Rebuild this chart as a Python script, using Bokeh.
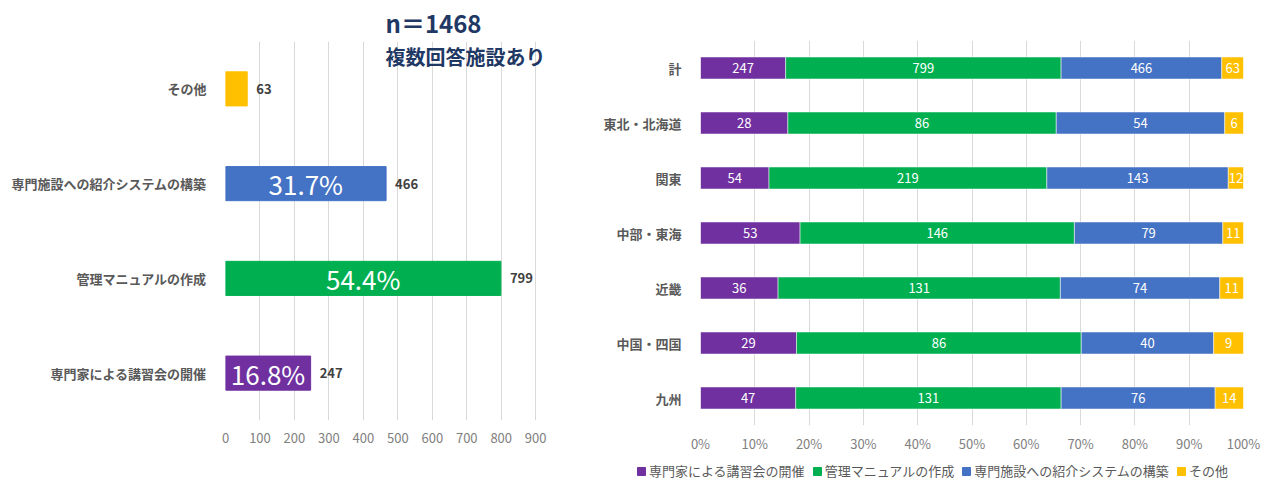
from bokeh.plotting import figure
from bokeh.models import (ColumnDataSource, FactorRange, Range1d, FixedTicker,
                          NumeralTickFormatter, Label, Legend)
from bokeh.layouts import row, column
from bokeh.core.properties import value
from bokeh.embed import file_html
from bokeh.resources import INLINE

FONT = "Noto Sans CJK JP"

# ---------------- data ----------------
n_total = 1468
measures = ["専門家による講習会の開催", "管理マニュアルの作成", "専門施設への紹介システムの構築", "その他"]
measure_counts = [247, 799, 466, 63]
show_pct = [True, True, True, False]
colors = ["#7030A0", "#00B050", "#4472C4", "#FFC000"]

regions = ["計", "東北・北海道", "関東", "中部・東海", "近畿", "中国・四国", "九州"]
s_lecture = [247, 28, 54, 53, 36, 29, 47]
s_manual = [799, 86, 219, 146, 131, 86, 131]
s_referral = [466, 54, 143, 79, 74, 40, 76]
s_other = [63, 6, 12, 11, 11, 9, 14]

left_ticks = [0, 100, 200, 300, 400, 500, 600, 700, 800, 900]
right_ticks = [0, 0.1, 0.2, 0.3, 0.4, 0.5, 0.6, 0.7, 0.8, 0.9, 1.0]

# ---------------- left chart ----------------
L = figure(width=600, height=482, y_range=FactorRange(*measures),
           x_range=Range1d(0, 972), output_backend="svg", toolbar_location=None,
           min_border_left=225, min_border_right=40, min_border_top=40,
           min_border_bottom=62)
L.outline_line_color = None
src_l = ColumnDataSource(dict(
    cat=measures, v=measure_counts, col=colors, half=[c / 2 for c in measure_counts],
    vlab=[str(c) for c in measure_counts],
    plab=[f"{c / n_total * 100:.1f}%" if s else "" for c, s in zip(measure_counts, show_pct)]))
L.hbar(y="cat", right="v", left=0, height=0.36, color="col", source=src_l)
L.text(x="v", y="cat", text="vlab", source=src_l, x_offset=9, text_align="left",
       text_baseline="middle", text_font=value(FONT), text_font_size="13px",
       text_font_style="bold", text_color="#404040")
L.text(x="half", y="cat", text="plab", source=src_l, text_align="center",
       text_baseline="middle", text_font=value(FONT), text_font_size="26px",
       text_color="white")
L.xaxis.ticker = FixedTicker(ticks=left_ticks)
L.xgrid.ticker = FixedTicker(ticks=left_ticks)
L.xgrid.grid_line_color = "#D9D9D9"
L.ygrid.grid_line_color = None
for ax in (L.xaxis, L.yaxis):
    ax.axis_line_color = None
    ax.major_tick_line_color = None
    ax.minor_tick_line_color = None
    ax.major_label_text_font = FONT
    ax.major_label_text_font_size = "13px"
L.xaxis.major_label_text_color = "#808080"
L.xaxis.major_label_standoff = 6
L.yaxis.major_label_text_color = "#595959"
L.yaxis.major_label_text_font_style = "bold"
L.yaxis.major_label_standoff = 13

L.title.text = "n＝1468"
L.title.align = "left"
L.title.offset = 160
L.title.text_font = FONT
L.title.text_font_size = "24px"
L.title.text_font_style = "bold"
L.title.text_color = "#1F3864"
L.title.standoff = 4
L.add_layout(Label(x=160, y=364, x_units="screen", y_units="screen", text="複数回答施設あり",
                   text_font=FONT, text_font_size="20px", text_font_style="bold",
                   text_color="#1F3864", text_baseline="middle"))

# ---------------- right chart ----------------
order = regions[::-1]
R = figure(width=670, height=460, y_range=FactorRange(*order), x_range=Range1d(0, 1),
           output_backend="svg", toolbar_location=None,
           min_border_left=98, min_border_right=27, min_border_top=40,
           min_border_bottom=35)
R.outline_line_color = None

series = [s_lecture, s_manual, s_referral, s_other]
keys = ["a", "b", "c", "d"]
totals = [sum(t) for t in zip(*series)]
data = {"region": regions}
for k, s in zip(keys, series):
    data[k] = [v / t for v, t in zip(s, totals)]
src_r = ColumnDataSource(data)
R.hbar_stack(keys, y="region", height=0.4, color=colors, source=src_r,
             line_color="white", line_width=0.5)

cum = [0.0] * len(regions)
for k, s in zip(keys, series):
    mids = []
    for i, v in enumerate(s):
        frac = v / totals[i]
        mids.append(cum[i] + frac / 2)
        cum[i] += frac
    R.text(x=mids, y=regions, text=[str(v) for v in s], text_align="center",
           text_baseline="middle", text_font=value(FONT), text_font_size="13px",
           text_color="white")

R.xaxis.ticker = FixedTicker(ticks=right_ticks)
R.xgrid.ticker = FixedTicker(ticks=right_ticks)
R.xaxis.formatter = NumeralTickFormatter(format="0%")
R.xgrid.grid_line_color = "#D9D9D9"
R.ygrid.grid_line_color = None
for ax in (R.xaxis, R.yaxis):
    ax.axis_line_color = None
    ax.major_tick_line_color = None
    ax.minor_tick_line_color = None
    ax.major_label_text_font = FONT
    ax.major_label_text_font_size = "13px"
R.xaxis.major_label_text_color = "#808080"
R.xaxis.major_label_standoff = 2
R.yaxis.major_label_text_color = "#595959"
R.yaxis.major_label_text_font_style = "bold"
R.yaxis.major_label_standoff = 13

# ---------------- legend strip ----------------
G = figure(width=670, height=22, x_range=Range1d(0, 1), y_range=Range1d(0, 1),
           output_backend="svg", toolbar_location=None, x_axis_location=None,
           y_axis_location=None, min_border=0)
G.outline_line_color = None
G.xgrid.grid_line_color = None
G.ygrid.grid_line_color = None
for plot in (G, R):
    try:
        plot.frame_align = False
    except AttributeError:
        pass
swatches = [G.quad(left=[-2], right=[-1], bottom=[-2], top=[-1], color=c) for c in colors]
legend = Legend(items=[(m, [r]) for m, r in zip(measures, swatches)], orientation="horizontal",
                location=(36, 2), label_text_font=FONT, label_text_font_size="13px",
                label_text_color="#595959", glyph_width=10, glyph_height=10,
                label_standoff=3, spacing=7, padding=0, margin=0,
                label_height=14, background_fill_alpha=0, border_line_color=None)
G.add_layout(legend, "center")

layout = row(L, column(R, G))
open("out.html", "w").write(file_html(layout, INLINE))
